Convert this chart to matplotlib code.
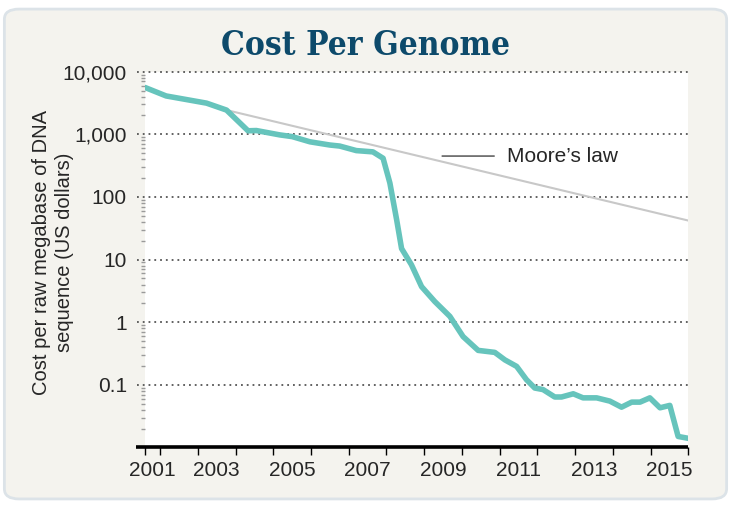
import numpy as np
import matplotlib.pyplot as plt
from matplotlib.patches import FancyBboxPatch
from matplotlib.ticker import FixedLocator, NullFormatter, LogLocator

# Cost per raw megabase of DNA sequence
years = [2001.60, 2002.16, 2003.23, 2003.76, 2004.33, 2004.55, 2005.17, 2005.50,
         2005.97, 2006.50, 2006.76, 2007.20, 2007.64, 2007.91, 2008.09, 2008.27,
         2008.40, 2008.66, 2008.93, 2009.28, 2009.68, 2010.03, 2010.43, 2010.87,
         2011.14, 2011.45, 2011.71, 2011.93, 2012.15, 2012.46, 2012.64, 2012.95,
         2013.21, 2013.57, 2013.92, 2014.23, 2014.50, 2014.72, 2014.98, 2015.25,
         2015.51, 2015.73, 2016.00]
cost = [5600, 4100, 3150, 2440, 1140, 1150, 980, 920,
        760, 675, 650, 550, 525, 415, 167, 43,
        15, 8.3, 3.7, 2.14, 1.24, 0.59, 0.355, 0.33,
        0.25, 0.197, 0.121, 0.089, 0.084, 0.064, 0.064, 0.072,
        0.062, 0.062, 0.055, 0.044, 0.053, 0.053, 0.062, 0.043,
        0.047, 0.015, 0.014]

# Moore's law reference line
moore_years = [2003.76, 2016.0]
moore_cost = [2440, 42]

y_ticks = [10000, 1000, 100, 10, 1, 0.1]
y_labels = ['10,000', '1,000', '100', '10', '1', '0.1']
label_years = [2001, 2003, 2005, 2007, 2009, 2011, 2013, 2015]

teal = '#66c4bc'
text_col = '#262626'
font = ['Liberation Sans', 'DejaVu Sans']

fig = plt.figure(figsize=(7.31, 5.05), dpi=100)
fig.patch.set_facecolor('white')

# rounded card behind everything
card = FancyBboxPatch((0.006, 0.012), 0.988, 0.97,
                      boxstyle='round,pad=0,rounding_size=0.02',
                      transform=fig.transFigure, facecolor='#f4f3ee',
                      edgecolor='#dce3e8', linewidth=2, zorder=-5)
fig.patches.append(card)

fig.text(0.5, 0.91, 'Cost Per Genome', ha='center', va='center',
         fontsize=24, fontweight='bold', color='#0d4a6b',
         family='DejaVu Serif', fontstretch='condensed')

ax = fig.add_axes([0.1984, 0.1139, 0.7432, 0.7441])
ax.set_zorder(1)
ax.set_facecolor('white')
ax.set_yscale('log')
ax.set_ylim(0.01, 10000)
ax.set_xlim(2001.60, 2016.0)

for s in ['top', 'right', 'left', 'bottom']:
    ax.spines[s].set_visible(False)

# dotted decade lines, sticking out a bit on the left
for v in y_ticks:
    ax.axhline(v, xmin=-0.015, xmax=1, color='#555555', lw=1.3,
               linestyle=(0, (1, 2.2)), clip_on=False, zorder=1)

# Moore's law
ax.plot(moore_years, moore_cost, color='#c8c8c8', lw=1.5, zorder=2)
ax.plot(years, cost, color=teal, lw=4, solid_capstyle='round',
        solid_joinstyle='round', zorder=3)

ax.annotate('', xy=(2009.4, 450), xytext=(2010.93, 450),
            arrowprops=dict(arrowstyle='-', color='#444444', lw=1))
ax.text(2011.19, 450, 'Moore\u2019s law', va='center', ha='left',
        fontsize=15, color=text_col, family=font)

# baseline
ax.plot([-0.017, 1], [0, 0], transform=ax.transAxes, color='black',
        lw=2.6, clip_on=False, zorder=4, solid_capstyle='butt')

# y axis ticks
ax.yaxis.set_major_locator(FixedLocator(y_ticks))
ax.set_yticklabels(y_labels, fontsize=15, color=text_col, family=font)
ax.yaxis.set_minor_locator(LogLocator(base=10, subs=np.arange(2, 10)))
ax.yaxis.set_minor_formatter(NullFormatter())
ax.tick_params(axis='y', which='major', length=0, pad=13)
ax.tick_params(axis='y', which='minor', length=3, width=1, color='#9a9a9a', pad=2)

# x axis: year boundary ticks, labels centred in each odd year
ax.set_xticks([2001.60] + list(range(2002, 2017)))
ax.set_xticklabels([])
ax.tick_params(axis='x', which='major', length=6, width=1, color='black',
               direction='out')
mid = [max(y, 2001.60) / 2 + (y + 1) / 2 for y in label_years]
ax.set_xticks(mid, minor=True)
ax.set_xticklabels([str(y) for y in label_years], minor=True,
                   fontsize=15, color=text_col, family=font)
ax.tick_params(axis='x', which='minor', length=0, pad=10)

ax.set_ylabel('Cost per raw megabase of DNA\nsequence (US dollars)',
              fontsize=14.5, color=text_col, family=font, linespacing=1.25,
              ha='center', va='center')
ax.yaxis.set_label_coords(-0.17, 0.52)

fig.savefig('out.png', dpi=100, facecolor=fig.get_facecolor())
